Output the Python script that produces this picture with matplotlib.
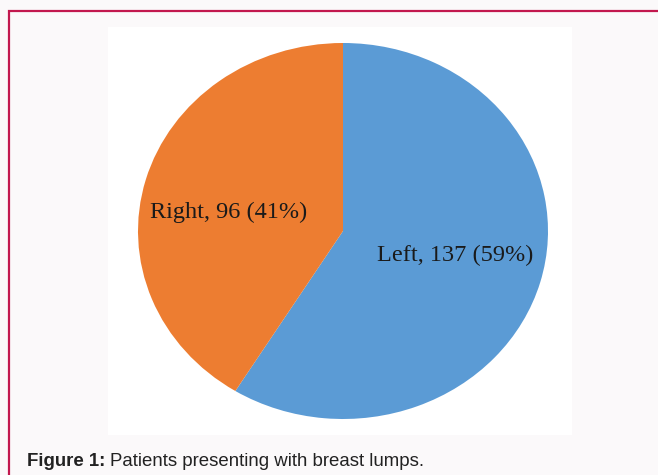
import matplotlib.pyplot as plt
from matplotlib.patches import Rectangle

sides = ['Left', 'Right']
counts = [137, 96]
pcts = [59, 41]
colors = ['#5b9bd5', '#ed7d31']

W, H = 658, 475
fig = plt.figure(figsize=(W / 100, H / 100), dpi=100)
fig.patch.set_facecolor('#fbf9fa')

# outer border (runs off right/bottom edge)
fig.patches.append(Rectangle((9 / W, -0.1), 1.2, 1 - 11 / H + 0.1, transform=fig.transFigure,
                             fill=False, edgecolor='#c2184e', linewidth=1.6, zorder=-1))
# white chart area
fig.patches.append(Rectangle((108 / W, 1 - 435 / H), (572 - 108) / W, (435 - 27) / H,
                             transform=fig.transFigure, facecolor='white', edgecolor='none',
                             zorder=-1))

ax = fig.add_axes([138 / W, 1 - 419 / H, 410 / W, 376 / H])
ax.pie(counts, colors=colors, startangle=90, counterclock=False,
       wedgeprops=dict(linewidth=0))
ax.set_aspect('auto')
ax.set_xlim(-1, 1)
ax.set_ylim(-1, 1)
ax.axis('off')

label_pos = [(0.546, -0.128), (-0.556, 0.101)]
for s, c, p, (x, y) in zip(sides, counts, pcts, label_pos):
    ax.text(x, y, f'{s}, {c} ({p}%)', ha='center', va='center',
            fontsize=17.5, family='Liberation Serif', color='#1a1a1a')

fig.text(27 / W, 1 - 461 / H, 'Figure 1:', fontsize=13.4, fontweight='bold',
         family='Liberation Sans', color='#222222', va='center')
fig.text(110 / W, 1 - 461 / H, 'Patients presenting with breast lumps.', fontsize=13.4,
         family='Liberation Sans', color='#222222', va='center')

fig.savefig('out.png', dpi=100, facecolor=fig.get_facecolor())
